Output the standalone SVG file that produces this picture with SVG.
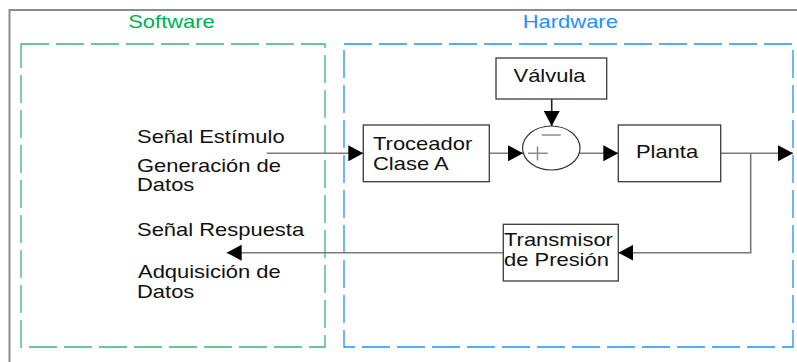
<svg xmlns="http://www.w3.org/2000/svg" width="797" height="362" viewBox="0 0 797 362">
<style>
text{font-family:"Liberation Sans",Arial,sans-serif;font-size:18px;fill:#111}
.box{fill:#fff;stroke:#3a3a3a;stroke-width:1.3}
.wire{fill:none;stroke:#7a7a7a;stroke-width:1.6}
.sym{fill:none;stroke:#8a8a8a;stroke-width:1.5}
</style>
<defs>
<marker id="ah" markerUnits="userSpaceOnUse" markerWidth="16" markerHeight="16" refX="15" refY="8" orient="auto">
<path d="M0,0 L15,8 L0,16 Z" fill="#000"/>
</marker>
</defs>
<rect x="0" y="0" width="797" height="362" fill="#fff"/>
<rect x="9.5" y="10" width="800" height="370" fill="none" stroke="#8c8c8c" stroke-width="2"/>
<g id="software">
<rect x="21" y="44" width="304" height="303" fill="none" stroke="#3cb371" stroke-width="1.3" stroke-dasharray="28 7"/>
<text transform="translate(171.5,28) scale(1.22,1)" text-anchor="middle" style="fill:#00b050">Software</text>
<text transform="translate(137,143.3) scale(1.22,1)">Señal Estímulo</text>
<text transform="translate(137,171.7) scale(1.22,1)">Generación de</text>
<text transform="translate(137,191) scale(1.22,1)">Datos</text>
<text transform="translate(137,236) scale(1.22,1)">Señal Respuesta</text>
<text transform="translate(138,278.3) scale(1.22,1)">Adquisición de</text>
<text transform="translate(137,297.7) scale(1.22,1)">Datos</text>
</g>
<g id="hardware">
<rect x="344" y="44" width="449" height="303" fill="none" stroke="#1e90ff" stroke-width="1.3" stroke-dasharray="28 7"/>
<text transform="translate(570.3,28) scale(1.22,1)" text-anchor="middle" style="fill:#1e90ff">Hardware</text>
</g>
<g id="connectors">
<line class="wire" x1="266.7" y1="153.3" x2="363.3" y2="153.3" marker-end="url(#ah)"/>
<line class="wire" x1="551.7" y1="99" x2="551.7" y2="126" style="stroke:#222" marker-end="url(#ah)"/>
<line class="wire" x1="489.3" y1="153.3" x2="523" y2="153.3" marker-end="url(#ah)"/>
<line class="wire" x1="580" y1="153.3" x2="618.3" y2="153.3" marker-end="url(#ah)"/>
<line class="wire" x1="720.7" y1="153.3" x2="793" y2="153.3" marker-end="url(#ah)"/>
<polyline class="wire" points="750.7,153.3 750.7,252.7 618.3,252.7" marker-end="url(#ah)"/>
<line class="wire" x1="503.3" y1="252.7" x2="226.7" y2="252.7" marker-end="url(#ah)"/>
</g>
<g id="valvula">
<rect class="box" x="496" y="58" width="110.7" height="41"/>
<text transform="translate(549.5,81.7) scale(1.22,1)" text-anchor="middle">Válvula</text>
</g>
<g id="sumador">
<ellipse cx="551.3" cy="148" rx="28.7" ry="22" fill="#fff" stroke="#333" stroke-width="1.2"/>
<line class="sym" x1="541.7" y1="135" x2="560.7" y2="135"/>
<line class="sym" x1="528" y1="153.3" x2="547.7" y2="153.3"/>
<line class="sym" x1="537.5" y1="146.5" x2="537.5" y2="160.5"/>
</g>
<g id="troceador">
<rect class="box" x="363.3" y="125" width="126" height="56.7"/>
<text transform="translate(373,150) scale(1.22,1)">Troceador</text>
<text transform="translate(373,170) scale(1.22,1)">Clase A</text>
</g>
<g id="planta">
<rect class="box" x="618.3" y="125" width="102.4" height="56.7"/>
<text transform="translate(667,158.3) scale(1.22,1)" text-anchor="middle">Planta</text>
</g>
<g id="transmisor">
<rect class="box" x="503.3" y="224.3" width="115" height="56.7"/>
<text transform="translate(504,245.7) scale(1.22,1)">Transmisor</text>
<text transform="translate(504,265.7) scale(1.22,1)">de Presión</text>
</g>
</svg>
